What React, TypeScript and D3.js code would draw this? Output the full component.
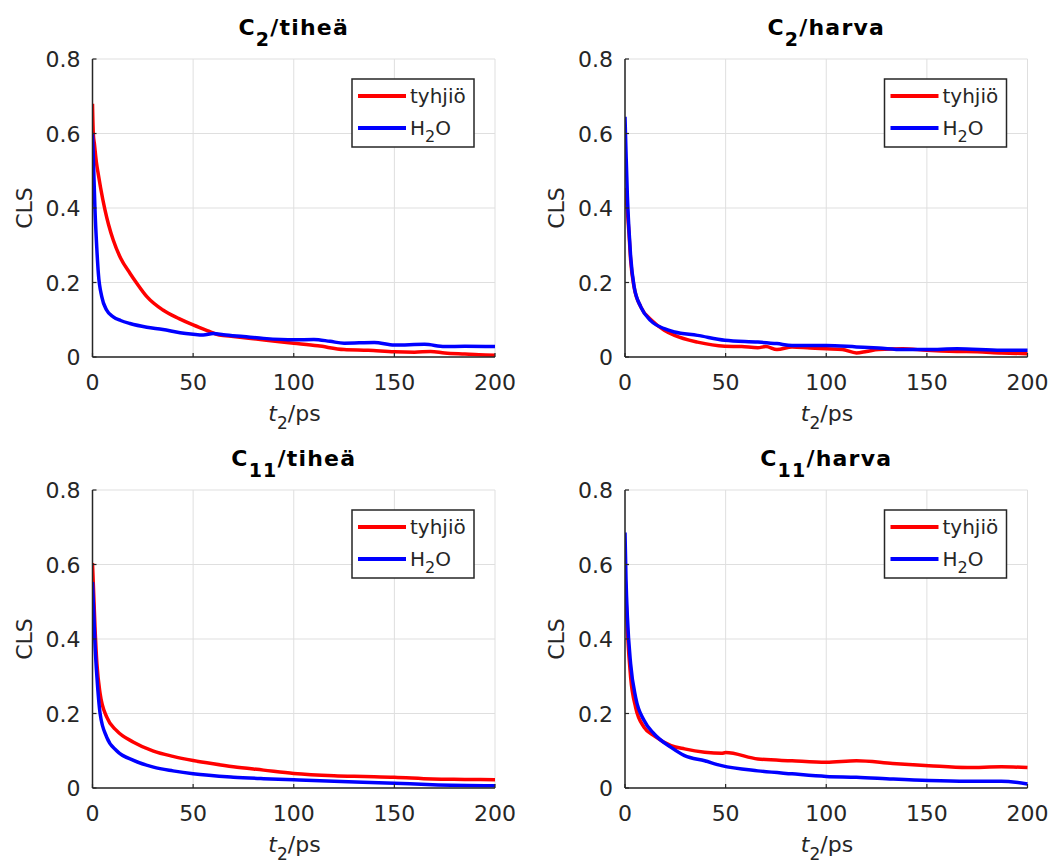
import React from 'react';
import * as d3 from 'd3';

// ---------- data ----------
const xTicks = [0, 50, 100, 150, 200];
const yTicks = [0, 0.2, 0.4, 0.6, 0.8];
const yTickLabels = ['0', '0.2', '0.4', '0.6', '0.8'];

// C2 / tiheä
const c2TiheaVacT = [0, 0.4, 1, 2, 2.9, 4, 6.2, 8, 10.3, 14, 18.6, 22, 27, 35, 43, 50, 57, 63, 70, 80, 93, 100, 112, 125, 137, 150, 160, 168, 175, 185, 192, 200];
const c2TiheaVacV = [0.68, 0.6, 0.57, 0.52, 0.49, 0.455, 0.395, 0.355, 0.314, 0.265, 0.225, 0.198, 0.162, 0.126, 0.103, 0.086, 0.071, 0.059, 0.055, 0.049, 0.041, 0.037, 0.03, 0.02, 0.018, 0.014, 0.013, 0.015, 0.011, 0.008, 0.006, 0.005];
const c2TiheaH2oT = [0, 0.4, 1.2, 2.1, 2.9, 4.6, 7, 10.3, 14, 18.6, 27, 35, 43.5, 50, 55, 60, 65, 75, 85, 100, 110, 118, 125, 140, 150, 165, 175, 185, 200];
const c2TiheaH2oV = [0.598, 0.538, 0.4, 0.296, 0.225, 0.162, 0.126, 0.108, 0.098, 0.09, 0.08, 0.074, 0.065, 0.061, 0.059, 0.063, 0.06, 0.055, 0.05, 0.046, 0.047, 0.042, 0.037, 0.039, 0.032, 0.034, 0.028, 0.029, 0.028];

// C2 / harva
const c2HarvaVacT = [0, 1.2, 2, 2.8, 4.5, 7.9, 12.9, 19.5, 24.6, 36, 49.6, 58, 66, 70, 75.5, 83, 92, 100, 108, 115, 120, 126, 138, 150, 165, 175, 187, 200];
const c2HarvaVacV = [0.454, 0.39, 0.33, 0.26, 0.188, 0.134, 0.1, 0.072, 0.058, 0.04, 0.029, 0.028, 0.025, 0.028, 0.02, 0.027, 0.024, 0.022, 0.02, 0.011, 0.015, 0.02, 0.022, 0.018, 0.015, 0.014, 0.011, 0.009];
const c2HarvaH2oT = [0, 0.5, 1.2, 2, 2.8, 4.5, 7.9, 12.9, 19.5, 24.6, 36, 49.6, 66, 75.5, 83, 100, 115, 126, 138, 150, 165, 187, 200];
const c2HarvaH2oV = [0.645, 0.55, 0.43, 0.34, 0.27, 0.19, 0.134, 0.097, 0.076, 0.067, 0.058, 0.045, 0.04, 0.036, 0.031, 0.031, 0.027, 0.024, 0.02, 0.02, 0.022, 0.018, 0.018];

// C11 / tiheä
const c11TiheaVacT = [0, 1.3, 2.2, 3.8, 7.1, 12, 20.4, 30.3, 40, 50, 60, 70, 85, 100, 120, 135, 150, 169, 185, 200];
const c11TiheaVacV = [0.604, 0.423, 0.333, 0.253, 0.19, 0.154, 0.123, 0.099, 0.085, 0.074, 0.065, 0.057, 0.048, 0.039, 0.033, 0.031, 0.029, 0.024, 0.023, 0.022];
const c11TiheaH2oT = [0, 1.3, 2.2, 3.8, 7.1, 12, 20.4, 30.3, 40, 50, 70, 85, 100, 120, 150, 169, 200];
const c11TiheaH2oV = [0.553, 0.378, 0.298, 0.199, 0.136, 0.1, 0.074, 0.056, 0.046, 0.038, 0.029, 0.025, 0.022, 0.018, 0.013, 0.009, 0.006];

// C11 / harva
const c11HarvaVacT = [0, 1.2, 2.8, 5.3, 9.5, 14.5, 22.9, 29.6, 39.6, 48, 50, 66, 83, 100, 115, 133, 151, 170, 187, 200];
const c11HarvaVacV = [0.574, 0.422, 0.297, 0.216, 0.163, 0.14, 0.114, 0.105, 0.096, 0.093, 0.095, 0.078, 0.073, 0.069, 0.073, 0.066, 0.06, 0.055, 0.057, 0.055];
const c11HarvaH2oT = [0, 0.5, 1.2, 2.8, 5.3, 9.5, 14.5, 22.9, 29.6, 39.6, 48, 66, 83, 100, 115, 133, 151, 170, 187, 200];
const c11HarvaH2oV = [0.686, 0.56, 0.458, 0.333, 0.243, 0.181, 0.145, 0.109, 0.087, 0.073, 0.06, 0.046, 0.038, 0.031, 0.029, 0.024, 0.02, 0.018, 0.018, 0.011];

const seriesNames = ['tyhjiö', 'H2O'];
const seriesColors = ['#ff0000', '#0000ff'];

const panelTitles = [
  { base: 'C', sub: '2', rest: '/tiheä' },
  { base: 'C', sub: '2', rest: '/harva' },
  { base: 'C', sub: '11', rest: '/tiheä' },
  { base: 'C', sub: '11', rest: '/harva' },
];
const panelData = [
  [[c2TiheaVacT, c2TiheaVacV], [c2TiheaH2oT, c2TiheaH2oV]],
  [[c2HarvaVacT, c2HarvaVacV], [c2HarvaH2oT, c2HarvaH2oV]],
  [[c11TiheaVacT, c11TiheaVacV], [c11TiheaH2oT, c11TiheaH2oV]],
  [[c11HarvaVacT, c11HarvaVacV], [c11HarvaH2oT, c11HarvaH2oV]],
];

// ---------- layout ----------
const W = 1057;
const H = 868;
const colLeft = [92.5, 625];
const rowTop = [59, 490];
const plotW = 402.5;
const plotH = 298;
const FONT = '"DejaVu Sans", sans-serif';
const TXT = '#262626';

function Panel({ idx }: { idx: number }) {
  const left = colLeft[idx % 2];
  const top = rowTop[Math.floor(idx / 2)];
  const x = d3.scaleLinear().domain([0, 200]).range([left, left + plotW]);
  const y = d3.scaleLinear().domain([0, 0.8]).range([top + plotH, top]);
  const bottom = top + plotH;
  const clipId = `clip${idx}`;
  const t = panelTitles[idx];
  const lines = panelData[idx].map(([ts, vs]) =>
    d3.line<number>()
      .x((_, i) => x(ts[i]))
      .y((v) => y(v))
      .curve(d3.curveMonotoneX)(vs as number[]) || ''
  );
  const lgRight = left + plotW - 21;
  const lgW = 122;
  const lgH = 68;
  const lgX = lgRight - lgW;
  const lgY = top + 20;
  const cx = left + plotW / 2;
  return (
    <g>
      <defs>
        <clipPath id={clipId}>
          <rect x={left} y={top - 3} width={plotW + 2} height={plotH + 3} />
        </clipPath>
      </defs>
      {/* grid */}
      {xTicks.map((v) => (
        <line key={'gx' + v} x1={x(v)} x2={x(v)} y1={top} y2={bottom} stroke="#dfdfdf" strokeWidth={1} />
      ))}
      {yTicks.map((v) => (
        <line key={'gy' + v} x1={left} x2={left + plotW} y1={y(v)} y2={y(v)} stroke="#dfdfdf" strokeWidth={1} />
      ))}
      {/* data */}
      <g clipPath={`url(#${clipId})`}>
        {lines.map((d, i) => (
          <path key={i} d={d} fill="none" stroke={seriesColors[i]} strokeWidth={3.5} strokeLinejoin="round" strokeLinecap="butt" />
        ))}
      </g>
      {/* axes */}
      <line x1={left} x2={left + plotW} y1={bottom} y2={bottom} stroke={TXT} strokeWidth={1.5} />
      <line x1={left} x2={left} y1={top} y2={bottom} stroke={TXT} strokeWidth={1.5} />
      {xTicks.map((v) => (
        <line key={'tx' + v} x1={x(v)} x2={x(v)} y1={bottom} y2={bottom - 4} stroke={TXT} strokeWidth={1.2} />
      ))}
      {yTicks.map((v) => (
        <line key={'ty' + v} x1={left} x2={left + 4} y1={y(v)} y2={y(v)} stroke={TXT} strokeWidth={1.2} />
      ))}
      {/* tick labels */}
      {xTicks.map((v) => (
        <text key={'lx' + v} x={x(v)} y={bottom + 33} textAnchor="middle" fontSize={22} fill={TXT} fontFamily={FONT}>
          {String(v)}
        </text>
      ))}
      {yTicks.map((v, i) => (
        <text key={'ly' + v} x={left - 12} y={y(v) + 8} textAnchor="end" fontSize={22} fill={TXT} fontFamily={FONT}>
          {yTickLabels[i]}
        </text>
      ))}
      {/* axis labels */}
      <text x={left + 202} y={bottom + 64} textAnchor="middle" fontSize={22} fill={TXT} fontFamily={FONT}>
        <tspan fontStyle="italic">t</tspan>
        <tspan fontSize={17} dy={8}>2</tspan>
        <tspan dy={-8}>/ps</tspan>
      </text>
      <text
        transform={`translate(${left - 61},${top + plotH / 2}) rotate(-90)`}
        textAnchor="middle"
        fontSize={22}
        fill={TXT}
        fontFamily={FONT}
      >
        CLS
      </text>
      {/* title */}
      <text x={cx} y={top - 24.5} textAnchor="middle" fontSize={22} fontWeight="bold" fill="#000" fontFamily={FONT} letterSpacing={1.2}>
        {t.base}
        <tspan fontSize={19} dy={11}>{t.sub}</tspan>
        <tspan dy={-11}>{t.rest}</tspan>
      </text>
      {/* legend */}
      <rect x={lgX} y={lgY} width={lgW} height={lgH} fill="#fff" stroke={TXT} strokeWidth={1.5} />
      {seriesNames.map((name, i) => {
        const ry = lgY + 17 + i * 32;
        return (
          <g key={name}>
            <line x1={lgX + 6} x2={lgX + 54} y1={ry} y2={ry} stroke={seriesColors[i]} strokeWidth={4} />
            {i === 0 ? (
              <text x={lgX + 58} y={ry + 7} fontSize={20} fill={TXT} fontFamily={FONT}>
                {name}
              </text>
            ) : (
              <text x={lgX + 58} y={ry + 7} fontSize={20} fill={TXT} fontFamily={FONT}>
                H<tspan fontSize={16} dy={7}>2</tspan>
                <tspan dy={-7}>O</tspan>
              </text>
            )}
          </g>
        );
      })}
    </g>
  );
}

export default function App() {
  return (
    <svg
      width={W}
      height={H}
      viewBox={`0 0 ${W} ${H}`}
      style={{ position: 'absolute', left: 0, top: 0, background: '#fff' }}
    >
      <rect x={0} y={0} width={W} height={H} fill="#fff" />
      {[0, 1, 2, 3].map((i) => (
        <Panel key={i} idx={i} />
      ))}
    </svg>
  );
}
